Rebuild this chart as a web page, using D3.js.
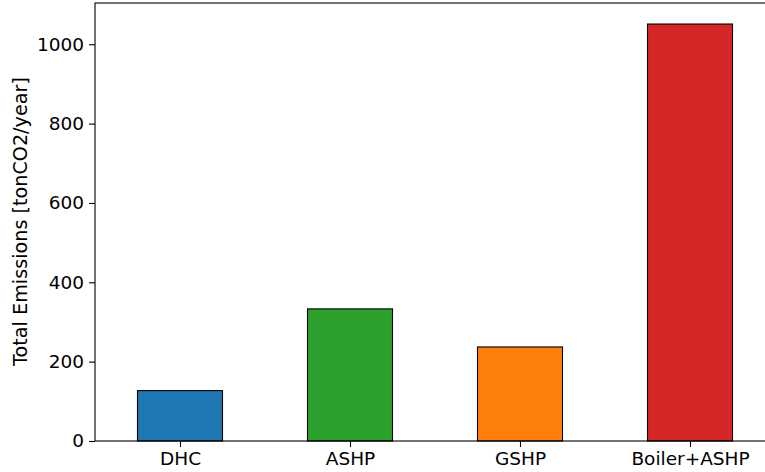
<!DOCTYPE html>
<meta charset="utf-8">

<style>
  body { margin: 0; background: #fff; }
  text { font-family: "DejaVu Sans", sans-serif; }
</style>

<svg class="chart"></svg>

<script src="https://d3js.org/d3.v7.min.js"></script>
<script>

  var categories = ["DHC", "ASHP", "GSHP", "Boiler+ASHP"];
  var emissions  = [127, 333, 237, 1051];
  var barColors  = ["#1f77b4", "#2ca02c", "#ff7f0e", "#d62728"];
  var yTicks     = [0, 200, 400, 600, 800, 1000];

  var width  = 765;
  var height = 472;

  var chart = d3.select(".chart")
      .attr("width", width)
      .attr("height", height);

  // x axis runs past the right edge, the reference is cropped there
  var x = d3.scaleLinear()
      .domain([-0.5, 3.5])
      .range([95, 775]);

  var y = d3.scaleLinear()
      .domain([0, 1104])
      .range([441, 3]);

  var barWidth = x(0.25) - x(-0.25);

  chart.append("g")
    .selectAll("rect")
    .data(emissions)
    .enter().append("rect")
        .attr("x", function(d, i) { return x(i) - barWidth / 2; })
        .attr("y", function(d) { return y(d); })
        .attr("width", barWidth)
        .attr("height", function(d) { return y(0) - y(d); })
        .attr("fill", function(d, i) { return barColors[i]; })
        .attr("stroke", "#000")
        .attr("stroke-width", 1.1);

  var yAxis = chart.append("g")
      .attr("transform", "translate(95,0)")
      .call(d3.axisLeft(y).tickValues(yTicks).tickFormat(d3.format("d"))
        .tickSize(6).tickPadding(5));

  var xAxis = chart.append("g")
      .attr("transform", "translate(0,441)")
      .call(d3.axisBottom(x)
        .tickValues(d3.range(categories.length))
        .tickFormat(function(i) { return categories[i]; })
        .tickSize(6).tickPadding(5));

  [yAxis, xAxis].forEach(function(axis) {
    axis.selectAll("text").attr("font-size", 18.5).attr("fill", "#000")
        .attr("font-family", "DejaVu Sans, sans-serif");
    axis.selectAll("line").attr("stroke", "#000").attr("stroke-width", 1.1);
    axis.select(".domain").remove();
  });

  // frame
  chart.append("rect")
      .attr("x", 95)
      .attr("y", 3)
      .attr("width", 680)
      .attr("height", 438)
      .attr("fill", "none")
      .attr("stroke", "#000")
      .attr("stroke-width", 1.1);

  chart.append("text")
      .attr("transform", "translate(27," + (78 + 365) / 2 + ") rotate(-90)")
      .attr("text-anchor", "middle")
      .attr("font-size", 19.2)
      .text("Total Emissions [tonCO2/year]");

</script>
